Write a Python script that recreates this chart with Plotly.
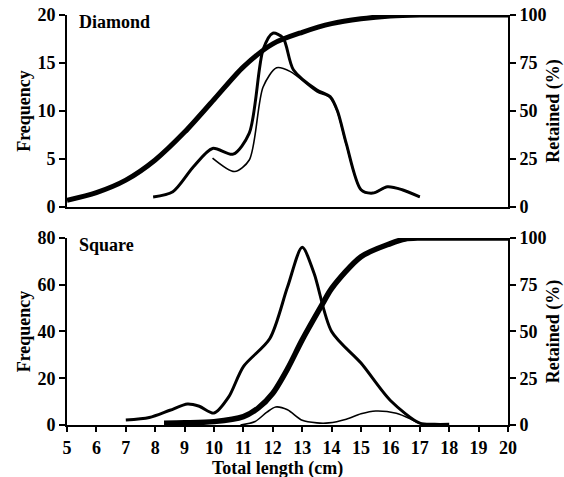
import plotly.graph_objects as go

# ---------------- data ----------------
# Diamond panel
diamond_ret_x = [5, 6, 7, 8, 9, 10, 11, 12, 13, 14, 15, 16, 17, 18, 19, 20]
diamond_ret_y = [3.5, 7.5, 14, 24.5, 39, 56, 73, 85, 91, 95.5, 98, 99.5, 100, 100, 100, 100]

diamond_freq_a_x = [7.93, 8.6, 9.3, 9.95, 10.65, 11.2, 11.67, 12.0, 12.35, 12.7, 13.5, 13.95, 14.2, 14.5, 15.0, 15.4, 15.9, 16.4, 17.0]
diamond_freq_a_y = [1.05, 1.6, 4.2, 6.1, 5.5, 7.7, 16.4, 18.1, 17.6, 14.3, 12.2, 11.5, 10.0, 6.6, 1.8, 1.45, 2.1, 1.8, 1.05]

diamond_freq_b_x = [9.95, 10.7, 11.2, 11.67, 12.13, 12.6, 13.5, 13.95, 14.2, 14.5, 15.0, 15.4, 15.9, 16.4, 17.0]
diamond_freq_b_y = [5.1, 3.7, 4.9, 12.5, 14.5, 14.1, 12.0, 11.4, 9.9, 6.5, 1.8, 1.45, 2.1, 1.8, 1.05]

# Square panel
square_ret_x = [8.3, 9, 10, 11, 11.5, 12, 12.5, 13, 13.7, 14, 15, 16, 16.5, 17, 18, 19, 20]
square_ret_y = [1, 1.2, 1.8, 4.5, 9, 17, 30, 45.5, 65, 73, 90, 97, 99.5, 100, 100, 100, 100]

square_freq_a_x = [7.0, 7.8, 8.5, 9.1, 9.5, 10.0, 10.5, 11.0, 11.9, 12.5, 13.0, 13.4, 14.0, 15.0, 16.0, 17.0, 17.5, 18.0]
square_freq_a_y = [2.1, 3.2, 6.3, 9.0, 8.0, 5.1, 12.0, 25, 37, 59, 76, 65, 40, 26.5, 10.5, 0.8, 0.3, 0.3]

square_freq_b_x = [10.9, 11.4, 11.8, 12.1, 12.5, 13.0, 13.5, 13.9, 14.5, 15.0, 15.5, 16.2, 16.7, 17.0]
square_freq_b_y = [0, 1.5, 5.5, 7.7, 6.5, 2.0, 0.9, 0.9, 2.5, 4.8, 6.0, 5.0, 2.5, 0.6]

x_ticks = list(range(5, 21))
freq_ticks_top = [0, 5, 10, 15, 20]
freq_ticks_bottom = [0, 20, 40, 60, 80]
ret_ticks = [0, 25, 50, 75, 100]

# ---------------- figure ----------------
FONT = "Liberation Serif, Times New Roman, serif"
TF = dict(family=FONT, size=18, color="black", weight="bold")
fig = go.Figure()

def line(x, y, xa, ya, w):
    fig.add_trace(go.Scatter(x=x, y=y, xaxis=xa, yaxis=ya, mode="lines",
                             line=dict(color="black", width=w, shape="spline", smoothing=0.8),
                             showlegend=False, hoverinfo="skip"))

line(diamond_ret_x, diamond_ret_y, "x", "y2", 5)
line(diamond_freq_a_x, diamond_freq_a_y, "x", "y", 3)
line(diamond_freq_b_x, diamond_freq_b_y, "x", "y", 1.6)

line(square_ret_x, square_ret_y, "x2", "y4", 5.5)
line(square_freq_a_x, square_freq_a_y, "x2", "y3", 3)
line(square_freq_b_x, square_freq_b_y, "x2", "y3", 1.6)

axis_common = dict(showline=True, linecolor="black", linewidth=2, showgrid=False,
                   zeroline=False, ticks="outside", ticklen=6, tickwidth=2, tickcolor="black",
                   automargin=False,
                   tickfont=dict(family=FONT, size=18, color="black", weight="bold"))

top_dom = [0.5317, 1.0]
bot_dom = [0.0, 0.4561]

fig.update_layout(
    width=564, height=477,
    margin=dict(l=67, r=56, t=15, b=52),
    plot_bgcolor="white", paper_bgcolor="white",
    font=dict(family=FONT, size=18, color="black"),
    xaxis=dict(domain=[0, 1], anchor="y", range=[5, 20], showline=True, linecolor="black",
               linewidth=2, showgrid=False, zeroline=False, showticklabels=False, ticks="",
               automargin=False),
    yaxis=dict(domain=top_dom, anchor="x", range=[0, 20], tickvals=freq_ticks_top,
               title=dict(text="Frequency", font=TF, standoff=2), **axis_common),
    yaxis2=dict(overlaying="y", side="right", anchor="x", range=[0, 100], tickvals=ret_ticks,
                title=dict(text="Retained (%)", font=TF, standoff=2), **axis_common),
    xaxis2=dict(domain=[0, 1], anchor="y3", range=[5, 20], tickvals=x_ticks,
                **{**axis_common, "ticklen": 5}),
    yaxis3=dict(domain=bot_dom, anchor="x2", range=[0, 80], tickvals=freq_ticks_bottom,
                title=dict(text="Frequency", font=TF, standoff=2), **axis_common),
    yaxis4=dict(overlaying="y3", side="right", anchor="x2", range=[0, 100], tickvals=ret_ticks,
                title=dict(text="Retained (%)", font=TF, standoff=2), **axis_common),
    annotations=[
        dict(text="Diamond", x=0.022, y=0.983, xref="paper", yref="paper", xanchor="left",
             yanchor="middle", showarrow=False, font=TF),
        dict(text="Square", x=0.022, y=0.439, xref="paper", yref="paper", xanchor="left",
             yanchor="middle", showarrow=False, font=TF),
        dict(text="Total length (cm)", x=0.477, y=-0.107, xref="paper", yref="paper",
             xanchor="center", yanchor="middle", showarrow=False, font=TF),
    ],
)

fig.write_html("out.html", config={"displayModeBar": False},
               post_script="document.body.style.margin='0';")
